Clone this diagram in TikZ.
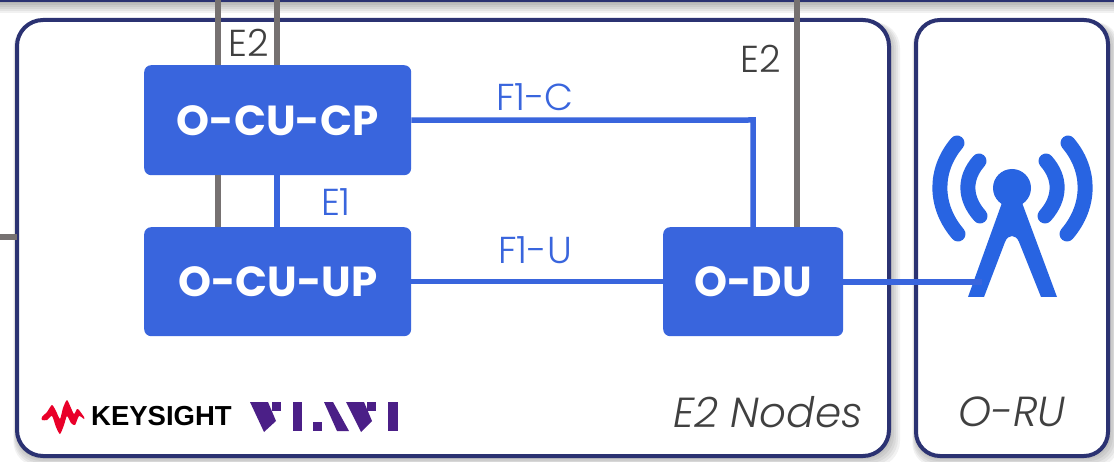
\documentclass[tikz,border=0pt]{standalone}
\usepackage{fontspec}
\setmainfont{Poppins}
\newfontfamily\lightf{Poppins Light}
\newfontfamily\keyf{Liberation Sans}
\usetikzlibrary{calc}
\definecolor{navy}{HTML}{2B3272}
\definecolor{bluebox}{HTML}{3965DD}
\definecolor{antblue}{HTML}{2864E2}
\definecolor{graywire}{HTML}{767171}
\definecolor{labelgray}{HTML}{404040}
\definecolor{vpurple}{HTML}{4B1F87}
\definecolor{kred}{HTML}{E90029}
\tikzset{
  x=1pt,y=-1pt,
  panel/.style={draw=navy,line width=4pt,fill=white,rounded corners=26pt},
  func/.style={fill=bluebox,rounded corners=7pt,inner sep=0pt,text=white,font=\fontsize{42}{42}\selectfont\bfseries},
  graywirel/.style={draw=graywire,line width=6pt},
  bluewire/.style={draw=bluebox,line width=5.5pt},
  lab/.style={font=\lightf\fontsize{37.5}{37.5}\selectfont,inner sep=0pt,text=labelgray},
  bluelab/.style={lab,text=bluebox},
  panellab/.style={font=\lightf\itshape\fontsize{42}{42}\selectfont,inner sep=0pt,text=labelgray},
  ant/.style={draw=antblue,line width=15pt,line cap=round}
}
\begin{document}
\begin{tikzpicture}
\useasboundingbox (0,0) rectangle (1114,462);
\fill[white] (0,0) rectangle (1114,462);
% top strip shadow
\foreach \h in {3,5,...,13}{\fill[black,opacity=.055] (0,0) rectangle (1114,\h);}
\fill[navy] (0,0) rectangle (1114,2);
% panel shadows
\foreach \w in {1,3,...,11}{
  \fill[black,opacity=.05,rounded corners=26pt] ({17-\w/3},{20+2}) rectangle ({889+\w},{456+\w});
  \fill[black,opacity=.05,rounded corners=24pt] ({916-\w/3},{20+2}) rectangle ({1108+\w},{456+\w});
}
\draw[panel] (17,20) rectangle (889,456);
\draw[panel,rounded corners=24pt] (916,20) rectangle (1108,456);
% nodes
\node[func,minimum width=267pt,minimum height=110pt,anchor=north west] (cp) at (144,65) {O-CU-CP};
\node[func,minimum width=267pt,minimum height=109pt,anchor=north west] (up) at (144,227) {O-CU-UP};
\node[func,minimum width=180pt,minimum height=109pt,anchor=north west] (du) at (663,227) {O-DU};
% free ends
\coordinate (t1) at (218,0);
\coordinate (t2) at (277,0);
\coordinate (t3) at (797,0);
\coordinate (ls) at (0,237);
\coordinate (lb) at (17,237);
\coordinate (rucontact) at (982,282);
% wires
\draw[graywirel] (t1) -- (t1 |- cp.north);
\draw[graywirel] (t2) -- (t2 |- cp.north);
\draw[graywirel] (t3) -- (t3 |- du.north);
\draw[graywirel] (t1 |- cp.south) -- (t1 |- up.north);
\draw[bluewire] (t2 |- cp.south) -- (t2 |- up.north);
\draw[graywirel] (ls) -- (lb);
\draw[bluewire,line join=miter] (cp.east) -- (753,120) -- (753,227);
\draw[bluewire] (up.east) -- (du.west);
% antenna
\fill[antblue] (1012,188) circle (19);
\fill[antblue] (1003,200) -- (1021,200) -- (1057,297) -- (1041,297) -- (1019,242) .. controls (1016,234) and (1008,234) .. (1005,242) -- (984,297) -- (968,297) -- cycle;
\draw[ant] (957,143) .. controls (934,170) and (934,206) .. (958,234);
\draw[ant] (979,161) .. controls (964,178) and (964,198) .. (980,216);
\draw[ant] (1068,143) .. controls (1091,170) and (1091,206) .. (1067,234);
\draw[ant] (1046,161) .. controls (1061,178) and (1061,198) .. (1045,216);
\draw[bluewire] (du.east |- rucontact) -- (rucontact);
% labels
\node[lab] (e2a) at (249,43) {E2};
\node[lab] (e2b) at (761,59) {E2};
\node[bluelab] (f1c) at (535,97) {F1-C};
\node[bluelab] (f1u) at (535,250) {F1-U};
\node[bluelab] (e1) at (336,202) {E1};
\node[panellab] (e2n) at (768,412) {E2 Nodes};
\node[panellab] (oru) at (1012,412) {O-RU};
% Keysight
\fill[kred] plot[smooth cycle,tension=.4] coordinates {(42,417) (47,412) (52,405) (56,411) (60,419) (63,408) (67,400) (71,408) (74,414) (77,409) (79,410) (84,417) (84,419) (79,416) (75,425) (71,423) (67,416) (64,425) (60,434) (56,427) (52,416) (47,420) (42,420)};
\node[font=\keyf\bfseries\fontsize{27.5}{27.5}\selectfont,text=black,inner sep=0pt,anchor=west] (ks) at (91,416) {KEYSIGHT};
% Viavi
\fill[vpurple] (250,402) -- (268,402) -- (276,421) -- (264,432) -- cycle;
\fill[vpurple] (272,402) rectangle (281,411);
\fill[vpurple] (293,402) rectangle (302,431);
\fill[vpurple] (313,422) rectangle (322,431);
\fill[vpurple] (324,402) -- (333,402) -- (349,431) -- (337,431) -- cycle;
\fill[vpurple] (346,402) -- (364,402) -- (372,421) -- (361,432) -- cycle;
\fill[vpurple] (367,402) rectangle (376,411);
\fill[vpurple] (388,402) rectangle (398,431);
\end{tikzpicture}
\end{document}
